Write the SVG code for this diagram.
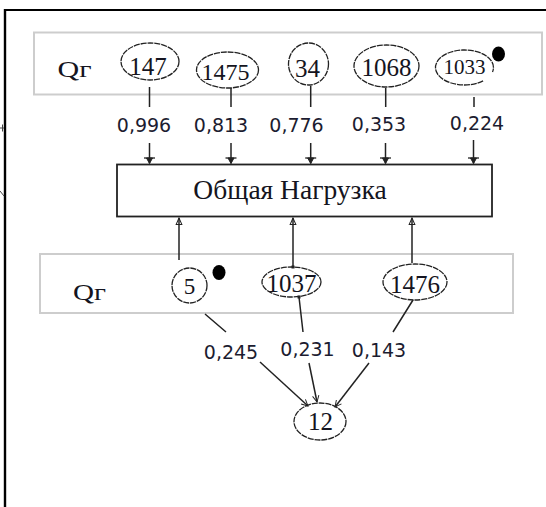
<svg xmlns="http://www.w3.org/2000/svg" width="546" height="507" viewBox="0 0 546 507">
<style>
.panel{fill:#fff;stroke:#cdcdcd;stroke-width:2}
.ell{fill:none;stroke:#222;stroke-width:1.3;stroke-dasharray:6 0.9}
.num{font-family:"Liberation Serif","Times New Roman",serif;fill:#141420;text-anchor:middle}
.lab{font-family:"DejaVu Sans","Liberation Sans",sans-serif;font-size:19px;fill:#1c1c30;text-anchor:middle}
.ln{stroke:#222;stroke-width:1.5;fill:none}
.dot{fill:#000}
</style>
<defs>
<marker id="mTop" markerUnits="userSpaceOnUse" markerWidth="16" markerHeight="16" viewBox="-8 -8 16 16" refX="0" refY="0" orient="auto" overflow="visible">
<path d="M-5.5,-5.5 L-5.5,5.5" stroke="#222" stroke-width="1.3" fill="none"/>
<path d="M-5.5,-3 L0,0 L-5.5,3 Z" fill="#222" stroke="#222" stroke-width="1"/>
</marker>
<marker id="mUp" markerUnits="userSpaceOnUse" markerWidth="16" markerHeight="16" viewBox="-10 -8 20 16" refX="0" refY="0" orient="auto" overflow="visible">
<path d="M0,0 L-8,-3.5 L-8,3.5 Z" fill="none" stroke="#222" stroke-width="1.3"/>
</marker>
<marker id="mV" markerUnits="userSpaceOnUse" markerWidth="16" markerHeight="16" viewBox="-10 -8 20 16" refX="0" refY="0" orient="auto" overflow="visible">
<path d="M-8,-4 L0,0 L-8,4" fill="none" stroke="#222" stroke-width="1.2"/>
</marker>
</defs>
<rect width="546" height="507" fill="#fff"/>
<g id="frame">
<path d="M4,10 H546" stroke="#000" stroke-width="2.2"/>
<path d="M5,9 V507" stroke="#000" stroke-width="2.4"/>
<path d="M0,128 H4 M2.5,124.5 V131.5" stroke="#444" stroke-width="1"/>
<path d="M0,191 L4,196" stroke="#444" stroke-width="1"/>
</g>
<g id="top-panel">
<rect class="panel" x="34" y="32.5" width="508" height="62"/>
<text x="74.5" y="77" class="num" font-size="24" textLength="34" lengthAdjust="spacingAndGlyphs">Qг</text>
</g>
<g id="bottom-panel">
<rect class="panel" x="40" y="254" width="473" height="59"/>
<text x="89.5" y="300" class="num" font-size="24" textLength="33" lengthAdjust="spacingAndGlyphs">Qг</text>
</g>
<g id="n147"><ellipse class="ell" cx="150" cy="61.5" rx="29" ry="18.5"/><text class="num" x="148" y="75" font-size="25">147</text></g>
<g id="n1475"><ellipse class="ell" cx="227.5" cy="70" rx="31" ry="18"/><text class="num" x="225.5" y="80" font-size="24">1475</text></g>
<g id="n34"><ellipse class="ell" cx="308.5" cy="64" rx="20" ry="21"/><text class="num" x="307.5" y="76.5" font-size="25">34</text></g>
<g id="n1068"><ellipse class="ell" cx="386.5" cy="66" rx="32.5" ry="21"/><text class="num" x="386.5" y="76" font-size="25">1068</text></g>
<g id="n1033"><path class="ell" d="M483.1,80.9 A29,17.5 0 1 1 492.5,72.0"/><text class="num" x="464.5" y="74.3" font-size="21">1033</text><ellipse class="dot" cx="498.5" cy="54" rx="6.5" ry="7.5"/></g>
<g id="n-box"><rect x="117" y="164.5" width="375" height="52" fill="#fff" stroke="#222" stroke-width="1.8"/><text class="num" x="290" y="199" font-size="27.5">Общая Нагрузка</text></g>
<g id="n5"><ellipse class="ell" cx="189.5" cy="285.5" rx="17.5" ry="17.5"/><text class="num" x="189.5" y="294" font-size="23">5</text><ellipse class="dot" cx="219" cy="272.5" rx="6.5" ry="7.5"/></g>
<g id="n1037"><ellipse class="ell" cx="291.5" cy="282" rx="29.5" ry="15"/><text class="num" x="291.5" y="292" font-size="25">1037</text></g>
<g id="n1476"><ellipse class="ell" cx="415" cy="282" rx="32" ry="18"/><text class="num" x="415" y="293" font-size="25">1476</text></g>
<g id="n12"><ellipse class="ell" cx="320" cy="421.5" rx="26" ry="18.5"/><text class="num" x="320.5" y="430" font-size="25">12</text></g>
<g id="connectors">
<path class="ln" d="M149.5,87 V107 M231,88 V107 M310.7,86 V107 M385.7,88 V107 M474,97 V107"/>
<path class="ln" d="M149.5,143 V163.5" marker-end="url(#mTop)"/>
<path class="ln" d="M231,143 V163.5" marker-end="url(#mTop)"/>
<path class="ln" d="M310.7,143 V163.5" marker-end="url(#mTop)"/>
<path class="ln" d="M385.5,143 V163.5" marker-end="url(#mTop)"/>
<path class="ln" d="M473.5,140 V163.5" marker-end="url(#mTop)"/>
<path class="ln" d="M179,260 V218" marker-end="url(#mUp)"/>
<path class="ln" d="M293,267 V218" marker-end="url(#mUp)"/>
<path class="ln" d="M412,263 V218" marker-end="url(#mUp)"/>
<rect x="291.5" y="265.5" width="3" height="3" fill="#222"/>
<rect x="297.5" y="295.5" width="3" height="3" fill="#222"/>
<path class="ln" d="M205,314 L226,332 M299,297 L303,332 M413,300 L393,332"/>
<path class="ln" d="M260,362 L308,406" marker-end="url(#mV)"/>
<path class="ln" d="M309,363 L317,402" marker-end="url(#mV)"/>
<path class="ln" d="M369,363 L335,407" marker-end="url(#mV)"/>
<text class="lab" x="144" y="132">0,996</text>
<text class="lab" x="221" y="132">0,813</text>
<text class="lab" x="296.5" y="132">0,776</text>
<text class="lab" x="379" y="130.5">0,353</text>
<text class="lab" x="477" y="129.5">0,224</text>
<text class="lab" x="231" y="359">0,245</text>
<text class="lab" x="307.5" y="355.5">0,231</text>
<text class="lab" x="379" y="357">0,143</text>
</g>
</svg>
